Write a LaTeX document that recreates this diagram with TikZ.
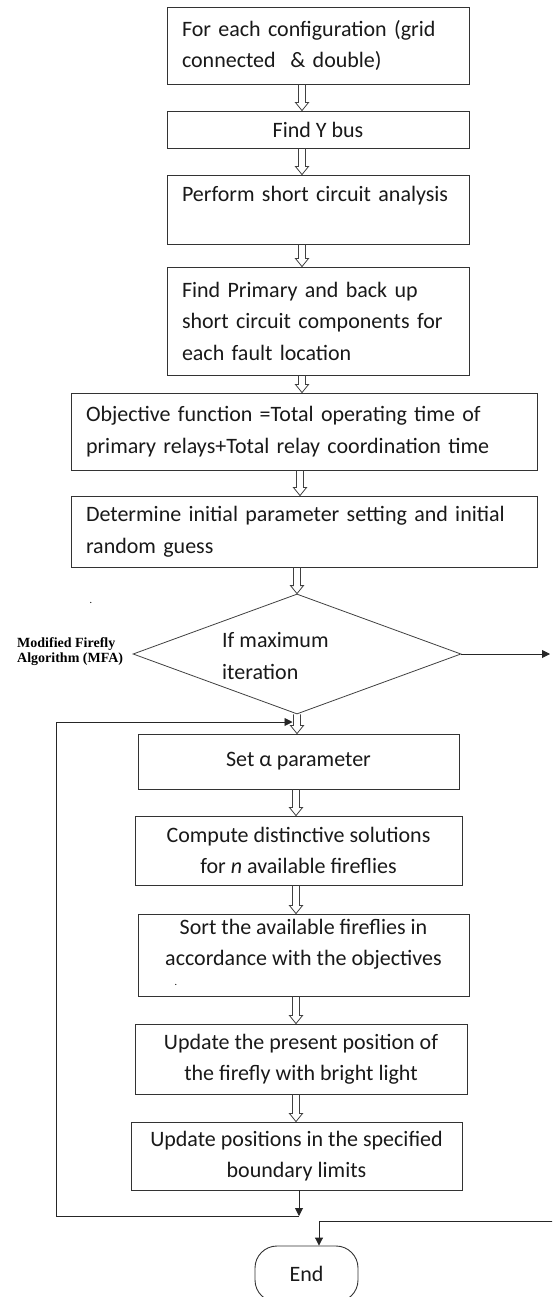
\documentclass[tikz,border=0pt]{standalone}
\usepackage{fontspec}
\setmainfont{Carlito}
\newfontfamily\timesfont{Liberation Serif}
\usetikzlibrary{arrows.meta,calc,shapes.geometric}
\begin{document}
\begin{tikzpicture}[x=1pt,y=-1pt,
  box/.style={draw=black!80, line width=0.9pt, rectangle, inner xsep=0pt, inner ysep=0pt,
    font=\fontsize{22}{31.5}\selectfont, text=black!90},
  lbox/.style={box, align=left},
  cbox/.style={box, align=center},
  dbl/.style={draw=black!75, line width=0.8pt, to path={
    let \p1=(\tikztostart), \p2=(\tikztotarget) in
    (\x1-3.5pt,\y1) -- (\x1-3.5pt,\y2+8pt) -- (\x1-6.5pt,\y2+8pt) -- (\x1,\y2)
    -- (\x1+6.5pt,\y2+8pt) -- (\x1+3.5pt,\y2+8pt) -- (\x1+3.5pt,\y1)}},
  arr/.style={draw=black!85, line width=0.9pt, -{Triangle[length=8pt,width=8pt]}},
  plain/.style={draw=black!85, line width=0.9pt}
]
\useasboundingbox (0,0) rectangle (552,1297);
\clip (0,0) rectangle (552,1297);

% x positions of the vertical connectors
\coordinate (ax1) at (302,0);
\coordinate (ax2) at (300,0);
\coordinate (ax3) at (297,0);
\coordinate (ax4) at (296,0);
\coordinate (ax5) at (299,0);
\coordinate (ex) at (319,0);

\node[lbox, minimum width=302pt, minimum height=77pt, text width=272pt] (b1) at (318,45.5)
  {For each configuration (grid\\connected\ \ \& double)};
\node[cbox, minimum width=302pt, minimum height=37pt] (b2) at (318,129.5) {Find Y bus};
\node[lbox, minimum width=302pt, minimum height=69pt, text width=272pt] (b3) at (318,209.5)
  {Perform short circuit analysis\\\mbox{}};
\node[lbox, minimum width=302pt, minimum height=108pt, text width=272pt] (b4) at (318,321)
  {Find Primary and back up\\short circuit components for\\each fault location};
\node[lbox, minimum width=466pt, minimum height=77pt, text width=436pt] (b5) at (304,431.5)
  {Objective function =Total operating time of\\primary relays+Total relay coordination time};
\node[lbox, minimum width=466pt, minimum height=71pt, text width=436pt] (b6) at (304,531.5)
  {Determine initial parameter setting and initial\\random guess};

\node[diamond, draw=black!75, line width=0.8pt, minimum width=328pt, minimum height=120pt,
  inner sep=0pt] (dia) at (297,654) {};
\node[font=\fontsize{22}{32}\selectfont, text=black!90, align=left, anchor=west, inner sep=0pt]
  (dtxt) at (222,656) {If maximum\\iteration};
\node[font=\timesfont\bfseries\fontsize{14}{15}\selectfont, align=left, anchor=west, inner sep=0pt]
  (mfa) at (17,652) {Modified Firefly\\Algorithm (MFA)};
\node[font=\fontsize{10}{10}\selectfont, inner sep=0pt] (dot1) at (91,603) {.};

\node[cbox, minimum width=321pt, minimum height=55pt] (b7) at (298.5,761.5) {Set α parameter};
\node[cbox, minimum width=327pt, minimum height=69pt] (b8) at (298.5,850.5)
  {Compute distinctive solutions\\for \textit{n} available fireflies};
\node[cbox, minimum width=331pt, minimum height=82pt] (b9) at (303.5,955)
  {Sort the available fireflies in\\accordance with the objectives\\[-6pt]\mbox{}};
\node[font=\fontsize{10}{10}\selectfont, inner sep=0pt] (dot2) at (176,985) {.};
\node[cbox, minimum width=332pt, minimum height=70pt] (b10) at (301,1059)
  {Update the present position of\\the firefly with bright light};
\node[cbox, minimum width=331pt, minimum height=68pt] (b11) at (296.5,1156)
  {Update positions in the specified\\boundary limits};

\node[draw=black!80, line width=0.9pt, rounded corners=22pt, minimum width=103pt,
  minimum height=56pt, font=\fontsize{22}{26}\selectfont, text=black!90] (End) at (306.5,1274) {End};

% double (hollow) flow arrows
\draw[dbl] (b1.south -| ax1) to (b2.north -| ax1);
\draw[dbl] (b2.south -| ax1) to (b3.north -| ax1);
\draw[dbl] (b3.south -| ax1) to (b4.north -| ax1);
\draw[dbl] (b4.south -| ax1) to (b5.north -| ax1);
\draw[dbl] (b5.south -| ax2) to (b6.north -| ax2);
\draw[dbl] (b6.south -| ax3) to (dia.north);
\draw[dbl] (dia.south) to (b7.north -| ax3);
\draw[dbl] (b7.south -| ax4) to (b8.north -| ax4);
\draw[dbl] (b8.south -| ax4) to (b9.north -| ax4);
\draw[dbl] (b9.south -| ax4) to (b10.north -| ax4);
\draw[dbl] (b10.south -| ax4) to (b11.north -| ax4);

% exit arrow to the right
\coordinate (rend) at (550,654);
\draw[arr] (dia.east) -- (rend);

% loop back
\coordinate (lbot) at (299,1216);
\coordinate (lbl) at (56,1216);
\coordinate (ltl) at (56,722);
\coordinate (lin) at (292.5,722);
\draw[arr] (b11.south -| ax5) -- (lbot);
\draw[arr] (lbot) -- (lbl) -- (ltl) -- (lin);

% to End
\coordinate (rstart) at (553,1221);
\draw[arr] (rstart) -| (End.north -| ex);
\end{tikzpicture}
\end{document}
